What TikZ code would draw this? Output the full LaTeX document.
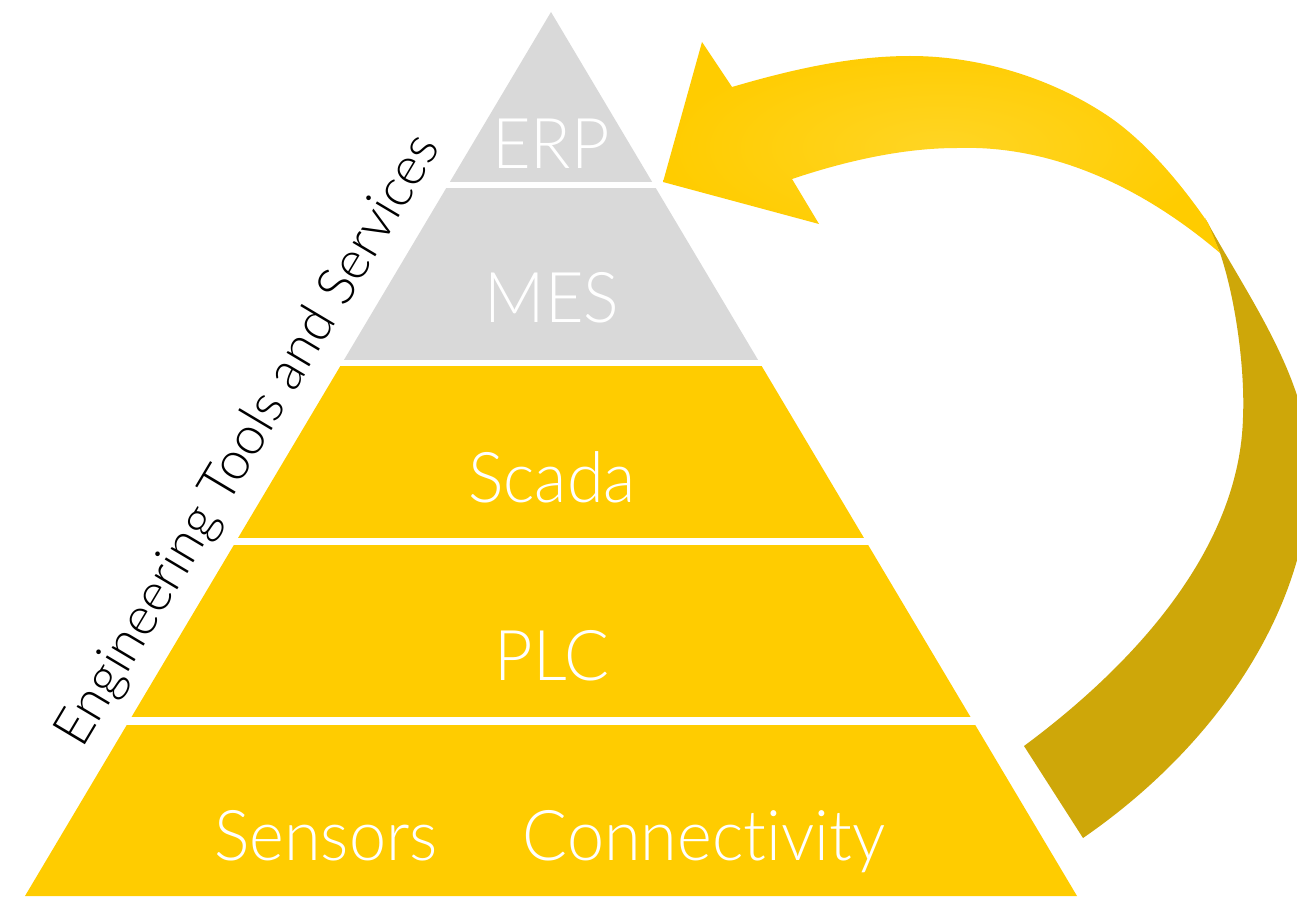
\documentclass[tikz,border=0pt]{standalone}
\usepackage{fontspec}
\newfontfamily\lightfont{Lato Light}[RawFeature={-liga;-dlig}]
\newfontfamily\layerfont{Lato Light}[RawFeature={-liga;-dlig}, FakeStretch=0.95]
\definecolor{layergray}{HTML}{D9D9D9}
\definecolor{layeryellow}{HTML}{FFCC00}
\definecolor{arrowlight}{HTML}{FFD524}
\definecolor{arrowedge}{HTML}{FFCC00}
\definecolor{arrowdark}{HTML}{CEA709}
\begin{document}
\begin{tikzpicture}[x=1pt,y=-1pt,
  layertext/.style={text=white, font=\layerfont\fontsize{70}{84}\selectfont, anchor=base, inner sep=0pt},
  sidetext/.style={text=black, font=\lightfont\fontsize{53}{62}\selectfont, anchor=base west, inner sep=0pt, rotate=59.2}]
\clip (0,0) rectangle (1297,896);
\fill[white] (0,0) rectangle (1297,896);
% pyramid layers
\begin{scope}
  \clip (551,12) -- (1077,896) -- (25,896) -- cycle;
  \fill[layergray]   (0,0)   rectangle (1297,182);
  \fill[layergray]   (0,188) rectangle (1297,360);
  \fill[layeryellow] (0,366) rectangle (1297,538);
  \fill[layeryellow] (0,545) rectangle (1297,717);
  \fill[layeryellow] (0,725) rectangle (1297,900);
\end{scope}
\node[layertext] (erp) at (551,168) {ERP};
\node[layertext] (mes) at (552,322) {MES};
\node[layertext] (scada) at (552,502) {Scada};
\node[layertext] (plc) at (552,680) {PLC};
\node[layertext] (sensors) at (326,860) {Sensors};
\node[layertext] (connectivity) at (704,860) {Connectivity};
\node[sidetext] (side) at (82,750) {Engineering Tools and Services};
% curved arrow: back (dark) part
\fill[arrowdark] (1205,218) .. controls (1248,297) and (1310,380) .. (1310,470)
  .. controls (1310,600) and (1225,740) .. (1083,838) -- (1024,746)
  .. controls (1140,660) and (1240,545) .. (1243,417)
  .. controls (1245,370) and (1236,300) .. (1220,253) -- cycle;
% curved arrow: front (light) part with head
\shade[inner color=arrowlight, outer color=arrowedge]
  (663,182) -- (702,42) -- (732,87)
  .. controls (790,70) and (850,56) .. (910,56)
  .. controls (980,56) and (1050,78) .. (1105,114)
  .. controls (1145,140) and (1182,185) .. (1208,223) -- (1220,253)
  .. controls (1140,185) and (1050,145) .. (957,148)
  .. controls (902,148) and (844,161.5) .. (792,179) -- (819,224) -- cycle;
\end{tikzpicture}
\end{document}
